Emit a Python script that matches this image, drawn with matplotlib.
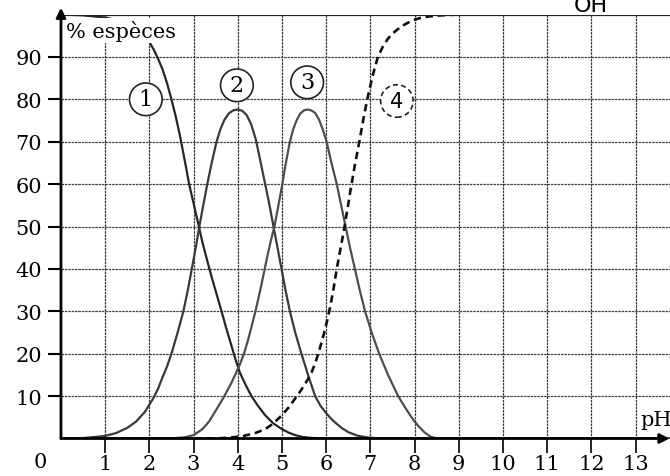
import matplotlib.pyplot as plt

# pourcentages des espèces lus point par point
ph1 = [0.0, 0.5, 1.0, 1.3, 1.6, 1.8, 1.9, 2.0, 2.1, 2.2, 2.3, 2.4, 2.5, 2.6, 2.7, 2.8,
       2.9, 3.0, 3.12, 3.2, 3.3, 3.4, 3.5, 3.62, 3.74, 3.86, 3.95, 4.05, 4.18, 4.31,
       4.45, 4.62, 4.8, 5.0, 5.15, 5.3, 5.45, 5.6, 5.8, 6.0, 14.0]
v1 = [100, 99.8, 99.3, 98.6, 97, 95.7, 94.7, 93.5, 91.7, 89.5, 87, 83.8, 80, 75.8, 71, 65.6,
      60, 55.5, 50, 46.3, 42.3, 38.4, 34.8, 30.5, 26, 21.8, 18.6, 15.5, 12.6, 10,
      7.8, 5.5, 3.6, 2.2, 1.4, 0.8, 0.4, 0.2, 0.05, 0, 0]

ph2 = [0.0, 0.5, 1.0, 1.25, 1.5, 1.7, 1.9, 2.09, 2.2, 2.3, 2.4, 2.5, 2.64, 2.77, 2.87,
       2.96, 3.05, 3.13, 3.22, 3.31, 3.41, 3.52, 3.61, 3.7, 3.8, 3.9, 4.0, 4.1, 4.2,
       4.3, 4.41, 4.5, 4.6, 4.7, 4.8, 4.9, 4.99, 5.08, 5.18, 5.3, 5.44, 5.6, 5.75,
       5.88, 6.0, 6.1, 6.2, 6.35, 6.5, 6.7, 6.9, 7.2, 14.0]
v2 = [0, 0.1, 0.6, 1.3, 2.5, 4, 6.3, 9.5, 11.8, 14.5, 17, 20, 25, 30, 35,
      40, 45, 50, 55, 60, 65, 70, 73, 75.2, 76.7, 77.4, 77.6, 77.3, 76.3,
      74.2, 70.5, 66, 61, 56, 50.5, 45, 40, 35, 30, 25, 20, 14.7, 10,
      7.6, 6, 4.8, 3.8, 2.5, 1.5, 0.7, 0.3, 0, 0]

ph3 = [0.0, 2.5, 2.8, 3.0, 3.2, 3.35, 3.48, 3.67, 3.85, 3.95, 4.05, 4.15, 4.24, 4.32,
       4.4, 4.47, 4.54, 4.61, 4.68, 4.75, 4.83, 4.92, 5.0, 5.08, 5.17, 5.25, 5.33,
       5.41, 5.5, 5.58, 5.66, 5.75, 5.84, 5.93, 6.01, 6.12, 6.24, 6.34, 6.44, 6.54,
       6.65, 6.76, 6.88, 7.03, 7.2, 7.4, 7.63, 7.77, 7.9, 8.0, 8.1, 8.22, 8.35, 8.45,
       8.6, 14.0]
v3 = [0, 0, 0.3, 0.8, 2.2, 4, 6.2, 9.5, 13, 15.2, 17.5, 20.3, 23.5, 26.7,
      30, 33.2, 36.5, 40, 43.5, 46.7, 50, 55, 59.5, 64.5, 69.5, 72.8, 75,
      76.6, 77.4, 77.6, 77.4, 76.8, 75.2, 72.7, 70, 65, 60, 55, 50, 45,
      40, 35, 30, 25, 20, 15, 10, 7.6, 5.5, 4, 2.8, 1.5, 0.5, 0.15,
      0, 0]

ph4 = [0.0, 3.5, 3.8, 4.09, 4.4, 4.62, 4.8, 4.99, 5.15, 5.29, 5.4, 5.5, 5.6, 5.67,
       5.76, 5.85, 5.91, 5.97, 6.04, 6.1, 6.17, 6.24, 6.32, 6.4, 6.48, 6.55, 6.65,
       6.75, 6.84, 6.93, 7.05, 7.17, 7.3, 7.4, 7.5, 7.7, 7.93, 8.1, 8.3, 8.6, 9.0, 14.0]
v4 = [0, 0, 0.2, 0.5, 1.3, 2.2, 3.5, 5.4, 7.3, 9.3, 10.9, 12.5, 14.2, 15.6,
      18, 21, 23.2, 25.5, 28.6, 31.5, 35.5, 40, 44.5, 49, 54, 58.5, 64.5,
      70, 75.2, 80, 85.5, 90, 92.8, 94.3, 95.5, 97.2, 98.5, 99.1, 99.5, 99.8, 100, 100]

x_ticks = list(range(1, 14))
y_ticks = list(range(10, 100, 10))

serif = "DejaVu Serif"

fig = plt.figure(figsize=(6.7, 4.77), dpi=100)
ax = fig.add_axes([0.0910, 0.0786, 0.9090, 0.8889])
ax.set_xlim(0, 13.78)
ax.set_ylim(0, 100)
for s in ax.spines.values():
    s.set_visible(False)

# quadrillage
for x in x_ticks:
    ax.axvline(x, color="#333333", lw=0.9, ls=(0, (2, 0.7)), zorder=1)
for y in y_ticks:
    ax.axhline(y, color="#404040", lw=0.9, ls=(0, (2, 0.7)), zorder=1)
ax.axhline(100, color="#222222", lw=1.6, zorder=6)

ax.plot(ph1, v1, color="#262626", lw=1.6, zorder=3)
ax.plot(ph2, v2, color="#3a3a3a", lw=1.6, zorder=3)
ax.plot(ph3, v3, color="#4e4e4e", lw=1.6, zorder=3)
ax.plot(ph4, v4, color="#111111", lw=1.9, ls=(0, (2.8, 1.8)), zorder=3)

ax.set_xticks(x_ticks)
ax.set_xticklabels([str(t) for t in x_ticks], fontsize=15, family=serif)
ax.set_yticks(y_ticks)
ax.set_yticklabels([str(t) for t in y_ticks], fontsize=15, family=serif)
ax.tick_params(axis="x", direction="out", length=10, width=1.2, pad=1)
ax.tick_params(axis="y", direction="out", length=9.4, width=1.5, pad=4.3)

# axes fléchés
arrow = dict(arrowstyle="-|>", color="black", lw=2, mutation_scale=14,
             shrinkA=0, shrinkB=0)
ax.annotate("", xy=(0, 101.6), xytext=(0, 0), arrowprops=arrow,
            annotation_clip=False, zorder=7)
ax.annotate("", xy=(13.77, 0), xytext=(0, 0), arrowprops=arrow,
            annotation_clip=False, zorder=7)

ax.text(0.12, 96.3, "% espèces", fontsize=15, family=serif, ha="left", va="center",
        bbox=dict(boxstyle="square,pad=0.1", fc="white", ec="none"), zorder=5)
ax.text(13.1, 4.6, "pH", fontsize=15, family=serif, ha="left", va="center", zorder=5)
ax.text(-0.47, -5.5, "0", fontsize=15, family=serif, ha="center", va="center",
        clip_on=False)

circle = dict(boxstyle="circle,pad=0.24", fc="white", ec="#222222", lw=1.2)
ax.text(1.92, 80, "1", fontsize=16, family=serif, ha="center", va="center",
        bbox=circle, zorder=5)
ax.text(3.98, 83.3, "2", fontsize=16, family=serif, ha="center", va="center",
        bbox=circle, zorder=5)
ax.text(5.57, 84, "3", fontsize=16, family=serif, ha="center", va="center",
        bbox=circle, zorder=5)
ax.text(7.6, 79.6, "4", fontsize=15, family="DejaVu Sans", ha="center", va="center",
        bbox=dict(boxstyle="circle,pad=0.3", fc="white", ec="#222222", lw=1.2,
                  ls=(0, (3, 2))), zorder=5)

fig.text(0.882, 0.975, "OH", fontsize=16, family="DejaVu Sans", ha="center",
         va="baseline")

fig.savefig("out.png", dpi=100, facecolor="white")
